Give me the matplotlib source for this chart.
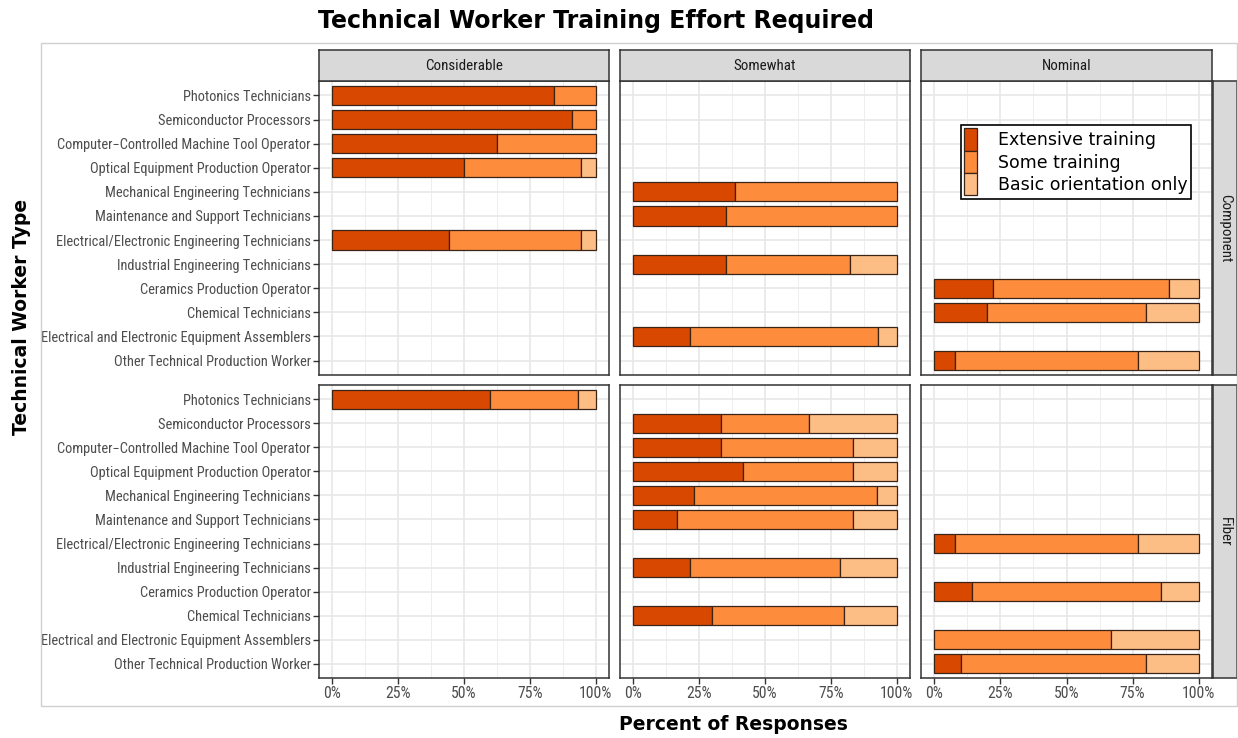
import numpy as np
import matplotlib
matplotlib.use("Agg")
import matplotlib.pyplot as plt
from matplotlib.patches import Patch, Rectangle
from matplotlib.ticker import MultipleLocator
from matplotlib import font_manager as fm
from matplotlib.font_manager import FontProperties

nan = np.nan

categories = [
    "Photonics Technicians",
    "Semiconductor Processors",
    "Computer\u2212Controlled Machine Tool Operator",
    "Optical Equipment Production Operator",
    "Mechanical Engineering Technicians",
    "Maintenance and Support Technicians",
    "Electrical/Electronic Engineering Technicians",
    "Industrial Engineering Technicians",
    "Ceramics Production Operator",
    "Chemical Technicians",
    "Electrical and Electronic Equipment Assemblers",
    "Other Technical Production Worker",
]
effort_levels = ["Considerable", "Somewhat", "Nominal"]
product_types = ["Component", "Fiber"]
training_levels = ["Extensive training", "Some training", "Basic orientation only"]
training_colors = ["#D94801", "#FD8D3C", "#FDBE85"]
x_ticks = [0, 25, 50, 75, 100]
x_tick_labels = ["0%", "25%", "50%", "75%", "100%"]

# Component
comp_considerable_ext = [84.0, 91.0, 62.5, 50.0, nan, nan, 44.4, nan, nan, nan, nan, nan]
comp_considerable_some = [16.0, 9.0, 37.5, 44.4, nan, nan, 50.0, nan, nan, nan, nan, nan]
comp_considerable_basic = [0.0, 0.0, 0.0, 5.6, nan, nan, 5.6, nan, nan, nan, nan, nan]

comp_somewhat_ext = [nan, nan, nan, nan, 38.5, 35.3, nan, 35.3, nan, nan, 21.4, nan]
comp_somewhat_some = [nan, nan, nan, nan, 61.5, 64.7, nan, 47.1, nan, nan, 71.4, nan]
comp_somewhat_basic = [nan, nan, nan, nan, 0.0, 0.0, nan, 17.6, nan, nan, 7.1, nan]

comp_nominal_ext = [nan, nan, nan, nan, nan, nan, nan, nan, 22.2, 20.0, nan, 7.7]
comp_nominal_some = [nan, nan, nan, nan, nan, nan, nan, nan, 66.7, 60.0, nan, 69.2]
comp_nominal_basic = [nan, nan, nan, nan, nan, nan, nan, nan, 11.1, 20.0, nan, 23.1]

# Fiber
fiber_considerable_ext = [60.0, nan, nan, nan, nan, nan, nan, nan, nan, nan, nan, nan]
fiber_considerable_some = [33.3, nan, nan, nan, nan, nan, nan, nan, nan, nan, nan, nan]
fiber_considerable_basic = [6.7, nan, nan, nan, nan, nan, nan, nan, nan, nan, nan, nan]

fiber_somewhat_ext = [nan, 33.3, 33.3, 41.7, 23.1, 16.7, nan, 21.4, nan, 30.0, nan, nan]
fiber_somewhat_some = [nan, 33.3, 50.0, 41.7, 69.2, 66.7, nan, 57.1, nan, 50.0, nan, nan]
fiber_somewhat_basic = [nan, 33.3, 16.7, 16.7, 7.7, 16.7, nan, 21.4, nan, 20.0, nan, nan]

fiber_nominal_ext = [nan, nan, nan, nan, nan, nan, 7.7, nan, 14.3, nan, 0.0, 10.0]
fiber_nominal_some = [nan, nan, nan, nan, nan, nan, 69.2, nan, 71.4, nan, 66.7, 70.0]
fiber_nominal_basic = [nan, nan, nan, nan, nan, nan, 23.1, nan, 14.3, nan, 33.3, 20.0]

panels = {
    ("Component", "Considerable"): (comp_considerable_ext, comp_considerable_some, comp_considerable_basic),
    ("Component", "Somewhat"): (comp_somewhat_ext, comp_somewhat_some, comp_somewhat_basic),
    ("Component", "Nominal"): (comp_nominal_ext, comp_nominal_some, comp_nominal_basic),
    ("Fiber", "Considerable"): (fiber_considerable_ext, fiber_considerable_some, fiber_considerable_basic),
    ("Fiber", "Somewhat"): (fiber_somewhat_ext, fiber_somewhat_some, fiber_somewhat_basic),
    ("Fiber", "Nominal"): (fiber_nominal_ext, fiber_nominal_some, fiber_nominal_basic),
}

W, H = 1238, 738
fig = plt.figure(figsize=(W / 100, H / 100), dpi=100)
fig.patch.set_facecolor("white")


# ---- pick a narrow font (Arial Narrow look-alike) if available ----
def find_narrow():
    prefs = ["Liberation Sans Narrow", "Roboto Condensed", "Open Sans Condensed",
             "DejaVu Sans Condensed"]
    ents = fm.fontManager.ttflist
    for p in prefs:
        for e in ents:
            if e.name == p and e.weight in (400, "normal", "regular") and e.style == "normal":
                return FontProperties(fname=e.fname)
    for e in ents:
        fn = e.fname.lower()
        if ("narrow" in fn or "condensed" in fn) and "bold" not in fn and "oblique" not in fn \
                and "italic" not in fn and "light" not in fn and "semi" not in fn \
                and "mono" not in fn and "serif" not in e.name.lower():
            return FontProperties(fname=e.fname)
    return FontProperties(family="Liberation Sans")


base_fp = find_narrow()

# fit label size so the longest label spans ~269 px like the reference
renderer = fig.canvas.get_renderer()
probe = fig.text(0, 0, "Electrical and Electronic Equipment Assemblers",
                 fontproperties=base_fp, fontsize=10)
wpx = probe.get_window_extent(renderer).width
probe.remove()
lab_size = min(10.5, 10 * 269.0 / wpx)
tick_fp = base_fp.copy()
tick_fp.set_size(lab_size)
xtick_fp = base_fp.copy()
xtick_fp.set_size(lab_size + 1.0)
strip_fp = base_fp.copy()
strip_fp.set_size(lab_size + 0.5)


def box(x0, y0, x1, y1):
    return [x0 / W, 1 - y1 / H, (x1 - x0) / W, (y1 - y0) / H]


col_x = [(319, 609), (620, 910), (921, 1212)]
row_y = [(81, 375), (385, 678)]
strip_top = (50, 81)
strip_right = (1213, 1237)

# faint outer frame
fig.patches.append(Rectangle((41 / W, 1 - 706 / H), (1237 - 41) / W, (706 - 43) / H,
                             transform=fig.transFigure, fill=False,
                             edgecolor="#d0d0d0", linewidth=1.0))

border_col = "#333333"
n = len(categories)
ypos = np.arange(n)

for r, ptype in enumerate(product_types):
    for c, eff in enumerate(effort_levels):
        ax = fig.add_axes(box(col_x[c][0], row_y[r][0], col_x[c][1], row_y[r][1]))
        ax.set_xlim(-5, 105)
        ax.set_ylim(n - 1 + 0.6, -0.6)
        ax.set_facecolor("white")
        ax.set_xticks(x_ticks)
        ax.xaxis.set_minor_locator(MultipleLocator(12.5))
        ax.set_yticks(ypos)
        ax.grid(which="major", color="#e8e8e8", linewidth=1.2, zorder=0)
        ax.grid(which="minor", axis="x", color="#eeeeee", linewidth=0.7, zorder=0)
        ax.set_axisbelow(True)
        ext, some, basic = panels[(ptype, eff)]
        left = np.zeros(n)
        for vals, col in zip((ext, some, basic), training_colors):
            v = np.array(vals, dtype=float)
            mask = ~np.isnan(v) & (v > 0)
            ax.barh(ypos[mask], v[mask], left=left[mask], height=0.8,
                    color=col, edgecolor="#3a2418", linewidth=0.9, zorder=3)
            left = left + np.nan_to_num(v)
        for s in ax.spines.values():
            s.set_color(border_col)
            s.set_linewidth(1.1)
        ax.tick_params(which="minor", length=0)
        ax.tick_params(which="major", color=border_col, length=4, width=1.0,
                       labelcolor="#4d4d4d", pad=2)
        if c == 0:
            ax.set_yticklabels(categories)
            for lab in ax.get_yticklabels():
                lab.set_fontproperties(tick_fp)
        else:
            ax.tick_params(axis="y", length=0, labelleft=False)
        if r == 1:
            ax.set_xticklabels(x_tick_labels)
            for lab in ax.get_xticklabels():
                lab.set_fontproperties(xtick_fp)
        else:
            ax.tick_params(axis="x", length=0, labelbottom=False)

        # legend in top-right panel
        if r == 0 and c == 2:
            handles = [Patch(facecolor=col, edgecolor="#3a2418", linewidth=0.9)
                       for col in training_colors]
            leg = ax.legend(handles, training_levels, loc="upper left",
                            bbox_to_anchor=((961 - col_x[c][0]) / (col_x[c][1] - col_x[c][0]),
                                            1 - (125 - row_y[r][0]) / (row_y[r][1] - row_y[r][0])),
                            frameon=True, fancybox=False, framealpha=1,
                            edgecolor="black",
                            handlelength=0.75, handleheight=1.6,
                            labelspacing=0.0, handletextpad=1.2,
                            borderpad=0.2, borderaxespad=0.0,
                            prop={"family": "DejaVu Sans", "size": 12.5})
            leg.get_frame().set_linewidth(1.2)
            leg.set_zorder(10)

    # right strip
    sax = fig.add_axes(box(strip_right[0], row_y[r][0], strip_right[1], row_y[r][1]))
    sax.set_facecolor("#d9d9d9")
    sax.set_xticks([])
    sax.set_yticks([])
    for s in sax.spines.values():
        s.set_color(border_col)
        s.set_linewidth(1.1)
    sax.text(0.5, 0.5, ptype, rotation=-90, ha="center", va="center",
             color="#1a1a1a", fontproperties=strip_fp, transform=sax.transAxes)

for c, eff in enumerate(effort_levels):
    sax = fig.add_axes(box(col_x[c][0], strip_top[0], col_x[c][1], strip_top[1]))
    sax.set_facecolor("#d9d9d9")
    sax.set_xticks([])
    sax.set_yticks([])
    for s in sax.spines.values():
        s.set_color(border_col)
        s.set_linewidth(1.1)
    sax.text(0.5, 0.5, eff, ha="center", va="center",
             color="#1a1a1a", fontproperties=strip_fp, transform=sax.transAxes)

fig.text(596 / W, 1 - 21 / H, "Technical Worker Training Effort Required",
         ha="center", va="center", fontsize=17, fontweight="bold",
         fontfamily="DejaVu Sans", color="black")
fig.text(733 / W, 1 - 725 / H, "Percent of Responses", ha="center", va="center",
         fontsize=13.5, fontweight="bold", fontfamily="DejaVu Sans", color="black")
fig.text(22 / W, 1 - 317 / H, "Technical Worker Type", ha="center", va="center",
         rotation=90, fontsize=13.5, fontweight="bold", fontfamily="DejaVu Sans",
         color="black")

fig.savefig("out.png", dpi=100, facecolor="white")
